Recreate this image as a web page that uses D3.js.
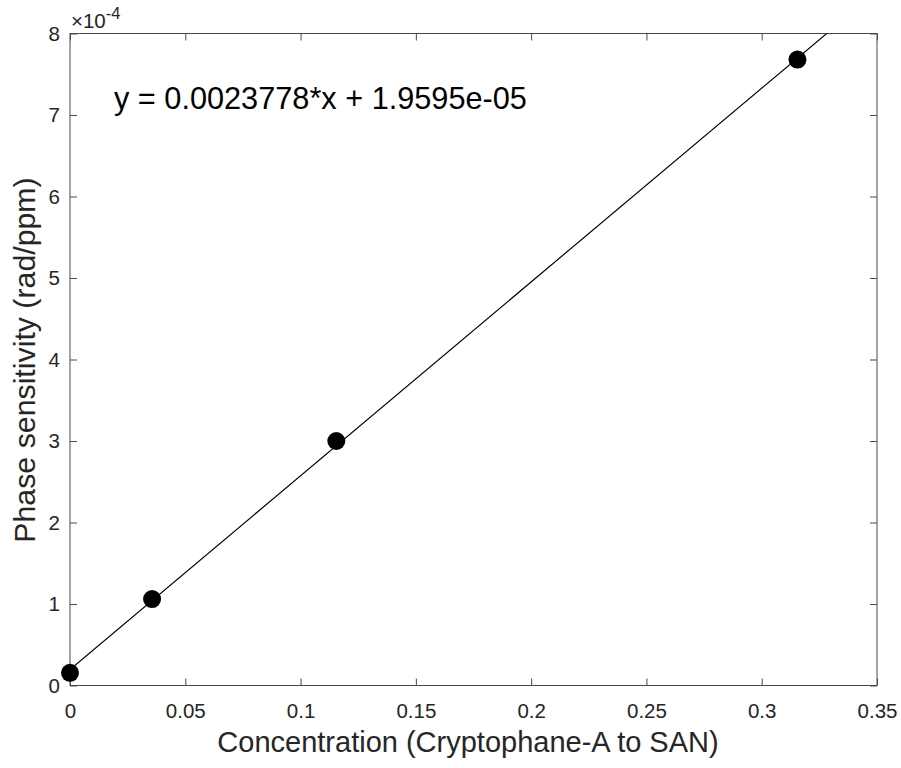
<!DOCTYPE html>
<html>
<head>
<meta charset="utf-8">
<script src="https://cdn.jsdelivr.net/npm/d3@7"></script>
<style>
  body { margin: 0; background: #fff; }
  text { font-family: "Liberation Sans", Arial, sans-serif; }
</style>
</head>
<body>
<svg id="canvas" width="901" height="768"></svg>
<script>
// data
let concentration = [0, 0.0356, 0.1155, 0.3155]
let sensitivity = [0.156e-4, 1.06e-4, 3.0e-4, 7.68e-4]
let fitSlope = 0.0023778
let fitIntercept = 1.9595e-05
let xTicks = [0, 0.05, 0.1, 0.15, 0.2, 0.25, 0.3, 0.35]
let yTicks = [0, 1, 2, 3, 4, 5, 6, 7, 8]   // in units of 1e-4

let svg = d3.select('#canvas')

let plotLeft = 70, plotRight = 877, plotTop = 33.5, plotBottom = 685.5

let xScale = d3.scaleLinear().domain([0, 0.35]).range([plotLeft, plotRight])
let yScale = d3.scaleLinear().domain([0, 8e-4]).range([plotBottom, plotTop])

let axisColor = '#4a4a4a'

// clip for the fit line
svg.append('clipPath').attr('id', 'plotclip')
   .append('rect')
   .attr('x', plotLeft).attr('y', plotTop)
   .attr('width', plotRight - plotLeft).attr('height', plotBottom - plotTop)

// ticks on all four sides, pointing in
let drawAxis = (axis, tx, ty, showLabels) => {
    let g = svg.append('g')
       .attr('transform', 'translate(' + tx + ',' + ty + ')')
       .call(axis)
    g.select('.domain').remove()
    g.selectAll('line').attr('stroke', axisColor)
    g.selectAll('text')
     .attr('fill', '#262626')
     .style('font-size', '20.5px')
     .style('font-family', '"Liberation Sans", Arial, sans-serif')
    if (!showLabels) g.selectAll('text').remove()
    return g
}

let fmtX = (d) => d === 0 ? '0' : String(+d.toFixed(2))

drawAxis(d3.axisBottom(xScale).tickValues(xTicks).tickSize(-7).tickPadding(18).tickFormat(fmtX), 0, plotBottom, true)
drawAxis(d3.axisTop(xScale).tickValues(xTicks).tickSize(-7), 0, plotTop, false)
drawAxis(d3.axisLeft(yScale).tickValues(yTicks.map(d => d * 1e-4)).tickSize(-7).tickPadding(10).tickFormat((d) => String(Math.round(d * 1e4))), plotLeft, 0, true)
drawAxis(d3.axisRight(yScale).tickValues(yTicks.map(d => d * 1e-4)).tickSize(-7), plotRight, 0, false)

// box
svg.append('rect')
   .attr('x', plotLeft).attr('y', plotTop)
   .attr('width', plotRight - plotLeft).attr('height', plotBottom - plotTop)
   .attr('fill', 'none')
   .attr('stroke', axisColor)
   .attr('stroke-width', 1)

// fit line
let line = d3.line()
   .x((d) => xScale(d))
   .y((d) => yScale(fitSlope * d + fitIntercept))

svg.append('path')
   .datum([0, 0.35])
   .attr('d', line)
   .attr('clip-path', 'url(#plotclip)')
   .attr('fill', 'none')
   .attr('stroke', '#000')
   .attr('stroke-width', 1.2)

// data points
svg.selectAll('circle.pt')
   .data(concentration)
   .enter()
   .append('circle')
   .attr('class', 'pt')
   .attr('cx', (d) => xScale(d))
   .attr('cy', (d, i) => yScale(sensitivity[i]))
   .attr('r', 9)
   .attr('fill', '#000')

// exponent label
let ex = svg.append('text')
   .attr('x', plotLeft + 1)
   .attr('y', 28)
   .attr('fill', '#262626')
   .style('font-size', '20.5px')
ex.append('tspan').text('\u00d710')
ex.append('tspan').attr('dy', -9).style('font-size', '16.5px').text('-4')

// equation
svg.append('text')
   .attr('x', 114)
   .attr('y', 109)
   .attr('fill', '#000')
   .style('font-size', '30.7px')
   .text('y = 0.0023778*x + 1.9595e-05')

// axis titles
svg.append('text')
   .attr('x', 468)
   .attr('y', 752)
   .attr('text-anchor', 'middle')
   .attr('fill', '#262626')
   .style('font-size', '29px')
   .text('Concentration (Cryptophane-A to SAN)')

svg.append('text')
   .attr('transform', 'translate(35,360) rotate(-90)')
   .attr('text-anchor', 'middle')
   .attr('fill', '#262626')
   .style('font-size', '30.3px')
   .text('Phase sensitivity (rad/ppm)')
</script>
</body>
</html>
